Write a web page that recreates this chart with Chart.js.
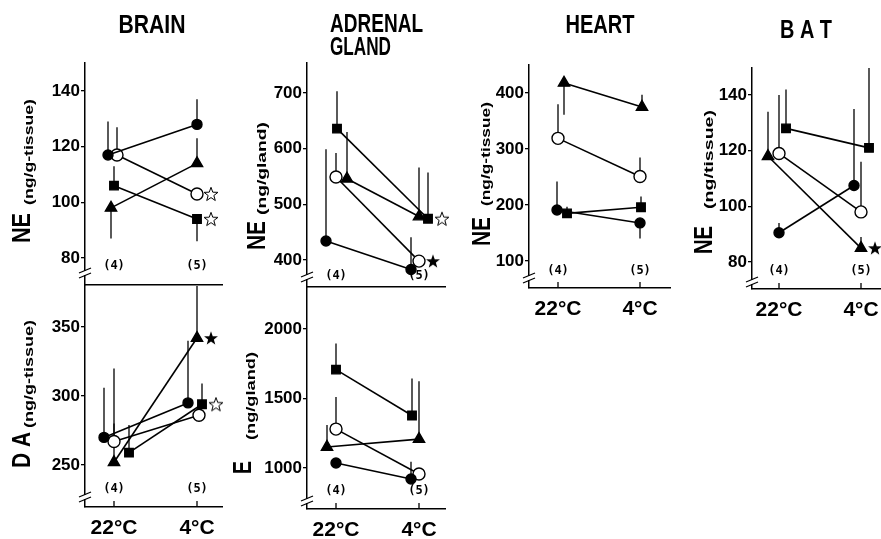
<!DOCTYPE html>
<html>
<head>
<meta charset="utf-8">
<script src="https://cdn.jsdelivr.net/npm/chart.js@4.4.0/dist/chart.umd.min.js"></script>
<style>
  html, body { margin: 0; padding: 0; background: #fff; overflow: hidden; }
  #fig { position: relative; width: 881px; height: 539px; }
  #fig canvas { position: absolute; }
</style>
</head>
<body>
<div id="fig"></div>
<script>
// series order in every panel: filled circle, open circle, filled triangle, filled square
const xLabels = ['22°C', '4°C'];
const nLabels = ['(4)', '(5)'];

// BRAIN  NE (ng/g-tissue)
const brainNE_ticks = [80, 100, 120, 140];
const brainNE_mean = [[117, 128], [117, 103], [98, 114], [106, 94]];
const brainNE_err = [[129, 137], [127, null], [87, 123], [113, 86]];
const brainNE_stars = [[1, 1, 'open'], [3, 1, 'open']]; // [series, x index, kind]

// BRAIN  DA (ng/g-tissue)
const brainDA_ticks = [250, 300, 350];
const brainDA_mean = [[270, 295], [267, 286], [252, 342], [259, 294]];
const brainDA_err = [[306, 340], [320, null], [280, 380], [279, 309]];
const brainDA_stars = [[2, 1, 'filled'], [3, 1, 'open']];

// ADRENAL GLAND  NE (ng/gland)
const adrNE_ticks = [400, 500, 600, 700];
const adrNE_mean = [[434, 383], [549, 398], [546, 478], [636, 474]];
const adrNE_err = [[599, 441], [592, null], [630, 566], [703, 557]];
const adrNE_stars = [[3, 1, 'open'], [1, 1, 'filled']];

// ADRENAL GLAND  E (ng/gland)
const adrE_ticks = [1000, 1500, 2000];
const adrE_mean = [[1036, 921], [1280, 957], [1151, 1208], [1708, 1378]];
const adrE_err = [[null, 1045], [1510, null], [1309, 1625], [1896, 1644]];
const adrE_stars = [];

// HEART  NE (ng/g-tissue)
const heart_ticks = [100, 200, 300, 400];
const heart_mean = [[191, 168], [319, 251], [418, 375], [185, 196]];
const heart_err = [[242, 140], [380, 285], [361, 397], [197, 215]];
const heart_stars = [];

// BAT  NE (ng/tissue)
const bat_ticks = [80, 100, 120, 140];
const bat_mean = [[90.5, 107.5], [119, 98], [118, 85], [128, 121]];
const bat_err = [[94, 135], [140, 116], [134, 89], [142, 150]];
const bat_stars = [[2, 1, 'filled']];

const FONT = '"Liberation Sans", Arial, sans-serif';
const PADL = 80, PADT = 70, PADR = 12;

// page geometry of each plot box; cal = [hiValue, hiPx, loValue, loPx]
const panels = [
  { ticks: brainNE_ticks, mean: brainNE_mean, err: brainNE_err, stars: brainNE_stars,
    area: { l: 85, t: 63, r: 222, b: 285 }, cal: [140, 91, 80, 258], x0: 114, x1: 197,
    xAxis: false, nOff: 19, brk: 12,
    dx: [[-6, 0], [3, 0], [-3, 0], [0, 0]],
    title: { lines: ['BRAIN'], x: 152, y: 24, w: [67] },
    yt: { big: 'NE', bx: 30, by: 243, blen: 30, small: '(ng/g-tissue)', sx: 33, sy: 205, slen: 106 } },
  { ticks: brainDA_ticks, mean: brainDA_mean, err: brainDA_err, stars: brainDA_stars,
    area: { l: 85, t: 286, r: 222, b: 507 }, cal: [350, 327, 250, 465], x0: 114, x1: 197,
    xAxis: true, nOff: 18, brk: 10,
    dx: [[-10, -9], [0, 2], [0, 0], [15, 5]],
    yt: { big: 'D A', bx: 30, by: 468, blen: 36, small: '(ng/g-tissue)', sx: 33, sy: 428, slen: 108 } },
  { ticks: adrNE_ticks, mean: adrNE_mean, err: adrNE_err, stars: adrNE_stars,
    area: { l: 307, t: 63, r: 445, b: 287 }, cal: [700, 93, 400, 260], x0: 336, x1: 419,
    xAxis: false, nOff: 11, brk: 10,
    dx: [[-10, -8], [0, 0], [11, 0], [1, 9]],
    title: { lines: ['ADRENAL', 'GLAND'], x: 376, y: 23, w: [93, 61], left: 330 },
    yt: { big: 'NE', bx: 265, by: 250, blen: 29, small: '(ng/gland)', sx: 266, sy: 215, slen: 93 } },
  { ticks: adrE_ticks, mean: adrE_mean, err: adrE_err, stars: adrE_stars,
    area: { l: 307, t: 287, r: 445, b: 509 }, cal: [2000, 329, 1000, 468], x0: 336, x1: 419,
    xAxis: true, nOff: 18, brk: 8,
    dx: [[0, -8], [0, 0], [-9, 0], [0, -7]],
    yt: { big: 'E', bx: 251, by: 474, blen: 13, small: '(ng/gland)', sx: 255, sy: 440, slen: 88 } },
  { ticks: heart_ticks, mean: heart_mean, err: heart_err, stars: heart_stars,
    area: { l: 529, t: 65, r: 670, b: 288 }, cal: [400, 93, 100, 261], x0: 558, x1: 640,
    xAxis: true, nOff: 17, brk: 10,
    dx: [[-1, 0], [0, 0], [6, 2], [9, 1]],
    title: { lines: ['HEART'], x: 600, y: 24, w: [69] },
    yt: { big: 'NE', bx: 490, by: 246, blen: 29, small: '(ng/g-tissue)', sx: 490, sy: 206, slen: 104 } },
  { ticks: bat_ticks, mean: bat_mean, err: bat_err, stars: bat_stars,
    area: { l: 752, t: 68, r: 881, b: 289 }, cal: [140, 95, 80, 262], x0: 779, x1: 861,
    xAxis: true, nOff: 18, brk: 7,
    dx: [[0, -7], [0, 0], [-11, 0], [7, 8]],
    title: { lines: ['B A T'], x: 806, y: 29, w: [52] },
    yt: { big: 'NE', bx: 712, by: 254, blen: 28, small: '(ng/tissue)', sx: 713, sy: 209, slen: 99 } }
];

const styles = ['circle', 'circle', 'triangle', 'rect'];
const fills = ['#000', '#fff', '#000', '#000'];
const radii = [5, 6, 6.5, 6];

function makeStar(filled) {
  const c = document.createElement('canvas');
  c.width = 16; c.height = 16;
  const g = c.getContext('2d');
  g.beginPath();
  for (let i = 0; i < 10; i++) {
    const r = i % 2 ? 3 : 7.3;
    const a = -Math.PI / 2 + i * Math.PI / 5;
    g.lineTo(8 + r * Math.cos(a), 8.6 + r * Math.sin(a));
  }
  g.closePath();
  if (filled) { g.fillStyle = '#000'; g.fill(); }
  else { g.fillStyle = '#fff'; g.fill(); g.strokeStyle = '#000'; g.lineWidth = 1; g.stroke(); }
  return c;
}
const starImg = { filled: makeStar(true), open: makeStar(false) };

// text squeezed to a given length, like the condensed type of the figure
function drawFitted(ctx, text, x, y, len, font, rotate) {
  ctx.save();
  ctx.font = font;
  ctx.translate(x, y);
  if (rotate) ctx.rotate(-Math.PI / 2);
  const w = ctx.measureText(text).width;
  ctx.scale(len / w, 1);
  ctx.textAlign = 'left';
  ctx.fillText(text, 0, 0);
  ctx.restore();
}

function makeDecor(p) {
  return {
    id: 'decor',
    beforeDatasetsDraw(chart) {
      const ctx = chart.ctx, ys = chart.scales.y, top = chart.chartArea.top;
      ctx.save();
      ctx.strokeStyle = '#000';
      ctx.lineWidth = 1.3;
      chart.data.datasets.forEach((ds, i) => {
        if (!ds.errEnd) return;
        const meta = chart.getDatasetMeta(i);
        ds.errEnd.forEach((e, k) => {
          if (e == null) return;
          const pt = meta.data[k];
          ctx.beginPath();
          ctx.moveTo(pt.x, pt.y);
          ctx.lineTo(pt.x, Math.max(ys.getPixelForValue(e), top));
          ctx.stroke();
        });
      });
      ctx.restore();
    },
    afterDraw(chart) {
      const ctx = chart.ctx, a = chart.chartArea, xs = chart.scales.x;
      const ox = p.area.l - PADL, oy = p.area.t - PADT;
      ctx.save();
      ctx.fillStyle = '#000';
      ctx.strokeStyle = '#000';
      ctx.textBaseline = 'alphabetic';

      // panel title
      if (p.title) {
        p.title.lines.forEach((t, i) => {
          const w = p.title.w[i];
          const x = p.title.left != null ? p.title.left : p.title.x - w / 2;
          drawFitted(ctx, t, x - ox, p.title.y + 9 - oy + i * 23, w, 'bold 25px ' + FONT, false);
        });
      }

      // y axis title: big symbol + small unit
      drawFitted(ctx, p.yt.big, p.yt.bx - ox, p.yt.by - oy, p.yt.blen, 'bold 26px ' + FONT, true);
      drawFitted(ctx, p.yt.small, p.yt.sx - ox, p.yt.sy - oy, p.yt.slen, 'bold 13px ' + FONT, true);

      // group sizes
      ctx.font = 'bold 12px "DejaVu Sans Mono", monospace';
      ctx.textAlign = 'center';
      ctx.textBaseline = 'middle';
      nLabels.forEach((t, k) => ctx.fillText(t, xs.getPixelForValue(k), a.bottom - p.nOff));

      // inward ticks on the x axis
      if (p.xAxis) {
        ctx.lineWidth = 1.3;
        [0, 1].forEach(k => {
          const x = xs.getPixelForValue(k);
          ctx.beginPath(); ctx.moveTo(x, a.bottom); ctx.lineTo(x, a.bottom - 6); ctx.stroke();
        });
      }

      // axis break
      const bx = a.left, by = a.bottom - p.brk;
      ctx.fillStyle = '#fff';
      ctx.fillRect(bx - 2, by - 2, 4, 4);
      ctx.lineWidth = 1.3;
      [-2.5, 2.5].forEach(d => {
        ctx.beginPath();
        ctx.moveTo(bx - 6, by + d + 2.5);
        ctx.lineTo(bx + 6, by + d - 2.5);
        ctx.stroke();
      });
      ctx.restore();
    }
  };
}

const fig = document.getElementById('fig');

panels.forEach(p => {
  const A = p.area;
  const padB = p.xAxis ? 50 : 14;
  const W = A.r - A.l + PADL + PADR;
  const H = A.b - A.t + PADT + padB;
  const canvas = document.createElement('canvas');
  canvas.width = W; canvas.height = H;
  canvas.style.left = (A.l - PADL) + 'px';
  canvas.style.top = (A.t - PADT) + 'px';
  canvas.style.width = W + 'px';
  canvas.style.height = H + 'px';
  fig.appendChild(canvas);

  const [hv, hp, lv, lp] = p.cal;
  const slope = (lp - hp) / (hv - lv);
  const ymax = hv + (hp - A.t) / slope;
  const ymin = lv - (A.b - lp) / slope;
  const unit = p.x1 - p.x0;
  const xmin = (A.l - p.x0) / unit;
  const xmax = (A.r - p.x0) / unit;

  const datasets = p.mean.map((vals, i) => ({
    data: vals.map((v, k) => ({ x: k + p.dx[i][k] / unit, y: v })),
    errEnd: p.err[i],
    showLine: true,
    borderColor: '#000',
    borderWidth: 1.6,
    pointStyle: styles[i],
    pointRadius: radii[i],
    pointBackgroundColor: fills[i],
    pointBorderColor: '#000',
    pointBorderWidth: 1.4,
    clip: false
  }));
  if (p.stars.length) {
    datasets.unshift({
      data: p.stars.map(([s, k]) => ({ x: k + (p.dx[s][k] + 14) / unit, y: p.mean[s][k] })),
      showLine: false,
      pointStyle: p.stars.map(s => starImg[s[2]]),
      clip: false
    });
  }

  new Chart(canvas, {
    type: 'scatter',
    data: { datasets },
    options: {
      responsive: false,
      animation: false,
      events: [],
      layout: { padding: { top: PADT, right: PADR, left: 0, bottom: 0 } },
      plugins: { legend: { display: false }, tooltip: { enabled: false } },
      scales: {
        x: {
          type: 'linear', min: xmin, max: xmax,
          afterFit: s => { s.height = padB; },
          afterBuildTicks: s => { s.ticks = [{ value: 0 }, { value: 1 }]; },
          grid: { display: true, drawOnChartArea: false, drawTicks: false },
          border: { display: true, color: '#000', width: 1.5 },
          ticks: {
            display: p.xAxis,
            color: '#000',
            padding: 9,
            font: { family: FONT, size: 21, weight: 'bold' },
            callback: v => xLabels[v]
          }
        },
        y: {
          type: 'linear', min: ymin, max: ymax,
          afterFit: s => { s.width = PADL; },
          afterBuildTicks: s => { s.ticks = p.ticks.map(v => ({ value: v })); },
          grid: { display: true, drawOnChartArea: false, drawTicks: true, tickLength: 4, color: '#000', lineWidth: 1.3 },
          border: { display: true, color: '#000', width: 1.5 },
          ticks: {
            color: '#000',
            padding: 1,
            font: { family: FONT, size: 17, weight: 'bold' },
            callback: v => String(v)
          }
        }
      }
    },
    plugins: [makeDecor(p)]
  });
});
</script>
</body>
</html>
